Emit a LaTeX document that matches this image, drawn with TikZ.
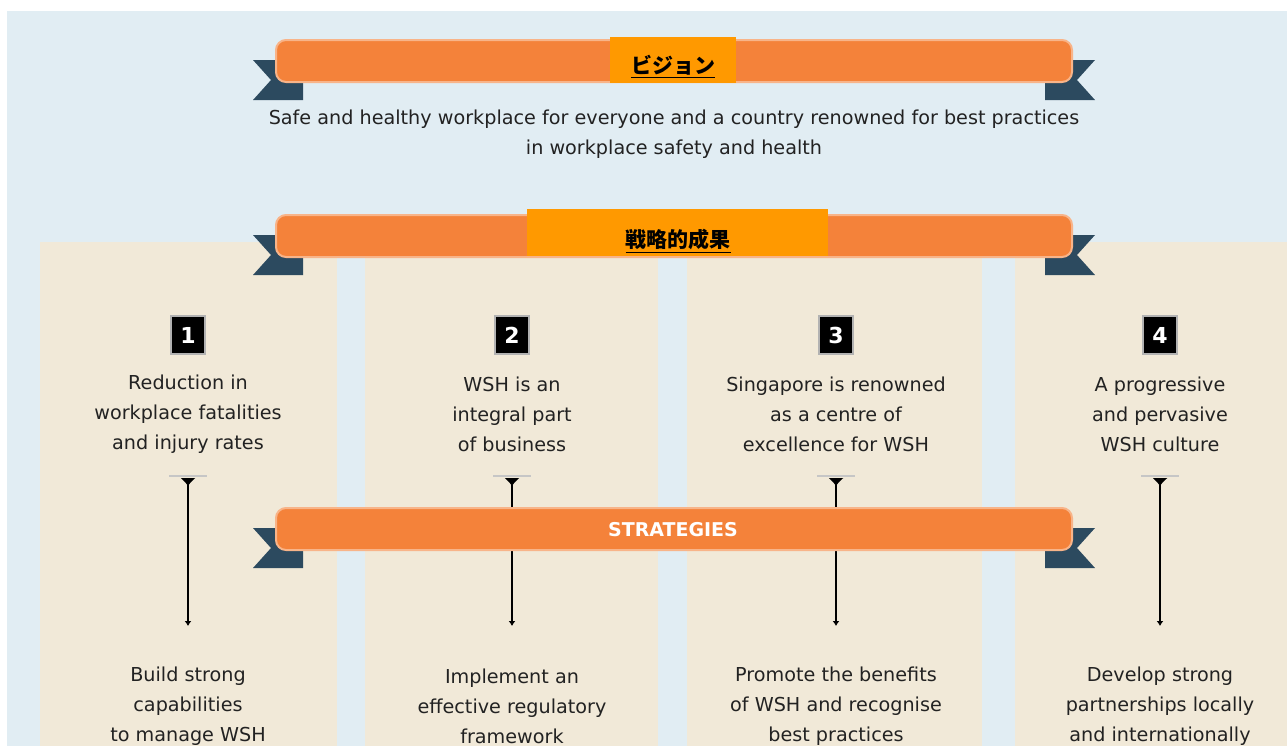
\documentclass[tikz,border=0pt]{standalone}
\usepackage{fontspec}
\setmainfont{DejaVu Sans}
\newfontfamily\cjk{Noto Sans CJK JP}
\usetikzlibrary{arrows.meta}
\definecolor{bgblue}{HTML}{E1EDF3}
\definecolor{beige}{HTML}{F1E9D8}
\definecolor{bannerorange}{HTML}{F4823A}
\definecolor{labelorange}{HTML}{FF9900}
\definecolor{taildark}{HTML}{2C4A5F}
\definecolor{txt}{HTML}{222222}
\tikzset{
  panel/.style={fill=beige, draw=none},
  bar/.style={fill=bannerorange, draw=bannerorange!60!white, line width=1pt, rounded corners=5pt},
  tail/.style={fill=taildark, draw=none},
  labelbox/.style={fill=labelorange, draw=none, inner sep=0pt},
  labeltext/.style={font=\cjk\bfseries\fontsize{10.5}{12}\selectfont, text=black},
  body/.style={align=center, text=txt, font=\fontsize{9.6}{15}\selectfont, inner sep=0pt},
  numbox/.style={fill=black, draw=gray!60, line width=0.6pt, minimum width=17pt, minimum height=19pt, inner sep=0pt, text=white, font=\bfseries\fontsize{11}{12}\selectfont},
  conn/.style={line width=1.1pt, black, {Latex[reversed,length=4pt,width=8pt]}-{Latex[length=2.5pt,width=3.5pt]}},
  striptext/.style={text=white, font=\bfseries\fontsize{9.5}{11}\selectfont}
}
\newcommand{\ribbon}[1]{% #1 = top of bar
  \fill[tail] (253,#1+20) -- (271,#1+40) -- (253,#1+60) -- (303,#1+60) -- (303,#1+20) -- cycle;
  \fill[tail] (1095,#1+20) -- (1077,#1+40) -- (1095,#1+60) -- (1045,#1+60) -- (1045,#1+20) -- cycle;
  \draw[bar] (276,#1) rectangle (1072,#1+42);
}
\begin{document}
\begin{tikzpicture}[x=0.5pt,y=-0.5pt]
\useasboundingbox (0,0) rectangle (1287,746);
\clip (0,0) rectangle (1287,746);
\fill[white] (0,0) rectangle (1287,746);
\fill[bgblue] (7,11) rectangle (1287,746);
% panels
\fill[panel] (40,242) rectangle (337,746);
\fill[panel] (365,242) rectangle (658,746);
\fill[panel] (687,242) rectangle (982,746);
\fill[panel] (1015,242) rectangle (1287,746);

% connectors
\foreach \i/\x in {1/188,2/512,3/836,4/1160}{
  \coordinate (t\i) at (\x,478);
  \coordinate (b\i) at (\x,626);
  \draw[gray!45, line width=0.6pt] (\x-19,476) -- (\x+19,476);
  \draw[conn] (t\i) -- (b\i);
}

% banners
\ribbon{40}
\ribbon{215}
\ribbon{508}

\node[labelbox, minimum width=63pt, minimum height=23pt] (visionbox) at (673,60) {};
\node[labeltext] (visionlabel) at (673,67) {\underline{ビジョン}};
\node[labelbox, minimum width=150.5pt, minimum height=23.5pt] (outcomebox) at (677.5,232.5) {};
\node[labeltext] (outcomelabel) at (678,241) {\underline{戦略的成果}};
\node[striptext] (strategies) at (673,530) {STRATEGIES};

% vision text
\node[body] (vision) at (674,134) {Safe and healthy workplace for everyone and a country renowned for best practices\\in workplace safety and health};

% number boxes
\node[numbox] (n1) at (188,335) {1};
\node[numbox] (n2) at (512,335) {2};
\node[numbox] (n3) at (836,335) {3};
\node[numbox] (n4) at (1160,335) {4};

% outcomes
\node[body] (o1) at (188,414) {Reduction in\\workplace fatalities\\and injury rates};
\node[body] (o2) at (512,414) {WSH is an\\integral part\\of business};
\node[body] (o3) at (836,414) {Singapore is renowned\\as a centre of\\excellence for WSH};
\node[body] (o4) at (1160,414) {A progressive\\and pervasive\\WSH culture};

% strategies
\node[body] (s1) at (188,706) {Build strong\\capabilities\\to manage WSH};
\node[body] (s2) at (512,706) {Implement an\\effective regulatory\\framework};
\node[body] (s3) at (836,706) {Promote the benefits\\of WSH and recognise\\best practices};
\node[body] (s4) at (1160,706) {Develop strong\\partnerships locally\\and internationally};
\end{tikzpicture}
\end{document}
